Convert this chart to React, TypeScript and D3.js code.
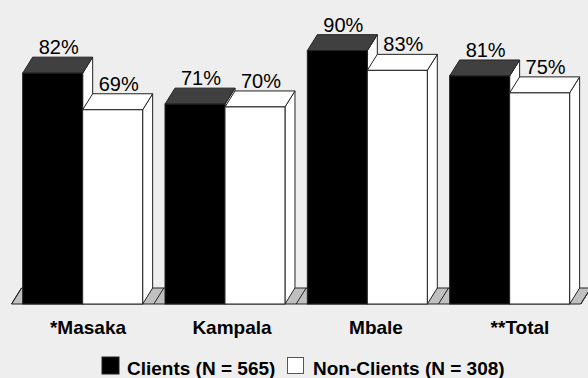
import React from "react";
import * as d3 from "d3";

const categories = ["*Masaka", "Kampala", "Mbale", "**Total"];
const seriesNames = ["Clients (N = 565)", "Non-Clients (N = 308)"];
const clients = [82, 71, 90, 81];
const nonClients = [69, 70, 83, 75];

const W = 588;
const H = 378;
const DX = 10;
const DY = -16;
const FONT = "'Liberation Sans', Arial, Helvetica, sans-serif";

const seriesStyle = [
  { front: "#000000", top: "#404040", side: "#ffffff" },
  { front: "#ffffff", top: "#ffffff", side: "#ffffff" },
];

export default function App() {
  const y = d3.scaleLinear().domain([0, 100]).range([304, 22.5]);
  const x0 = d3
    .scaleBand<string>()
    .domain(categories)
    .range([11.5, 580.8])
    .paddingInner(0.157)
    .paddingOuter(0.0785);
  const x1 = d3
    .scaleBand<string>()
    .domain(seriesNames)
    .range([0, x0.bandwidth()])
    .padding(0);
  const labelX = d3
    .scaleLinear()
    .domain([0, categories.length - 1])
    .range([88, 520]);

  const step = x0.step();
  const rangeStart = x0.range()[0];
  const boundaries = d3.range(categories.length + 1).map((i) => rangeStart + i * step);
  const floorY = y(0);
  const floorFront0 = boundaries[0];
  const floorFront1 = boundaries[boundaries.length - 1];

  const data = [clients, nonClients];
  const stroke = "#222";

  const pts = (arr: number[][]) => arr.map((p) => p.join(",")).join(" ");

  return (
    <svg
      width={W}
      height={H}
      style={{ position: "absolute", left: 0, top: 0, display: "block" }}
    >
      <rect x={0} y={0} width={W} height={H} fill="#eeeeee" />
      {/* floor */}
      <polygon
        points={pts([
          [floorFront0, floorY],
          [floorFront1, floorY],
          [floorFront1 + DX, floorY + DY],
          [floorFront0 + DX, floorY + DY],
        ])}
        fill="#c0c0c0"
        stroke={stroke}
        strokeWidth={1}
      />
      {boundaries.map((b, i) => (
        <line
          key={"b" + i}
          x1={b}
          y1={floorY}
          x2={b + DX}
          y2={floorY + DY}
          stroke={stroke}
          strokeWidth={1}
        />
      ))}
      {/* bars */}
      {categories.map((c, ci) => (
        <g key={c}>
          {seriesNames.map((s, si) => {
            const v = data[si][ci];
            const xl = (x0(c) ?? 0) + (x1(s) ?? 0);
            const xr = xl + x1.bandwidth();
            const yt = y(v);
            const st = seriesStyle[si];
            return (
              <g key={s}>
                <polygon
                  points={pts([
                    [xr, yt],
                    [xr + DX, yt + DY],
                    [xr + DX, floorY + DY],
                    [xr, floorY],
                  ])}
                  fill={st.side}
                  stroke={stroke}
                  strokeWidth={1}
                  strokeLinejoin="round"
                />
                <polygon
                  points={pts([
                    [xl, yt],
                    [xr, yt],
                    [xr + DX, yt + DY],
                    [xl + DX, yt + DY],
                  ])}
                  fill={st.top}
                  stroke={stroke}
                  strokeWidth={1}
                  strokeLinejoin="round"
                />
                <rect
                  x={xl}
                  y={yt}
                  width={xr - xl}
                  height={floorY - yt}
                  fill={st.front}
                  stroke={stroke}
                  strokeWidth={1}
                />
                <text
                  x={(xl + xr) / 2 + DX / 2 + 1}
                  y={yt + DY - 3}
                  textAnchor="middle"
                  fontFamily={FONT}
                  fontSize={20}
                  fill="#000"
                >
                  {v + "%"}
                </text>
              </g>
            );
          })}
        </g>
      ))}
      {/* category labels */}
      {categories.map((c, ci) => (
        <text
          key={"l" + c}
          x={labelX(ci)}
          y={334}
          textAnchor="middle"
          fontFamily={FONT}
          fontWeight="bold"
          fontSize={19}
          fill="#000"
        >
          {c}
        </text>
      ))}
      {/* legend */}
      <rect x={102} y={357} width={17} height={17} fill="#000" stroke="#222" strokeWidth={1} />
      <text x={127} y={374.5} fontFamily={FONT} fontWeight="bold" fontSize={19} fill="#000">
        {seriesNames[0]}
      </text>
      <rect x={287.5} y={357.5} width={16} height={16} fill="#fff" stroke="#555" strokeWidth={1} />
      <text x={313} y={374.5} fontFamily={FONT} fontWeight="bold" fontSize={19} fill="#000">
        {seriesNames[1]}
      </text>
    </svg>
  );
}
